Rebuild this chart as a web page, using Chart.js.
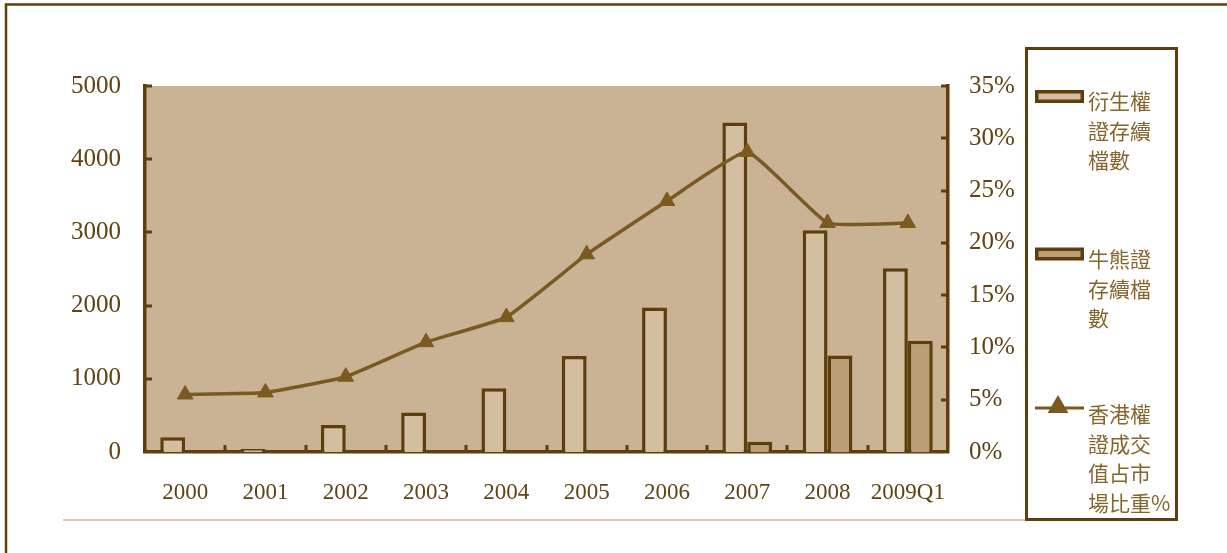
<!DOCTYPE html>
<html>
<head>
<meta charset="utf-8">
<script src="https://cdn.jsdelivr.net/npm/chart.js@4/dist/chart.umd.min.js"></script>
<style>
  html, body { margin: 0; padding: 0; background: #ffffff; }
  #wrap { position: relative; width: 1227px; height: 553px; }
</style>
</head>
<body>
<div id="wrap"><canvas id="c"></canvas></div>
<script>
// Categories and series
const categories = ['2000', '2001', '2002', '2003', '2004', '2005', '2006', '2007', '2008', '2009Q1'];
const warrantCounts = [200, 40, 370, 540, 870, 1310, 1975, 4500, 3030, 2510];
const cbbcCounts = [null, null, null, null, null, null, null, 140, 1320, 1520];
const warrantShare = [5.5, 5.7, 7.2, 10.5, 12.9, 18.9, 24.0, 28.7, 21.9, 21.9];

// Axis ticks
const leftTicks = [0, 1000, 2000, 3000, 4000, 5000];
const rightTicks = [0, 5, 10, 15, 20, 25, 30, 35];

const seriesLabels = ['衍生權證存續檔數', '牛熊證存續檔數', '香港權證成交值占市場比重%'];

const DARK = '#5e3f0c';
const LINE = '#7b5a1f';
const PLOT_BG = '#c9b394';
const BAR1 = '#d3bf9f';
const BAR2 = '#b99e76';
const TEXT = '#5f4312';
const LEGEND_TEXT = '#86652d';

// Background, frame, inward tick marks and the side legend
const decorPlugin = {
  id: 'decor',
  beforeDraw(chart) {
    const { ctx, chartArea: a } = chart;
    ctx.save();
    ctx.fillStyle = PLOT_BG;
    ctx.fillRect(a.left, a.top, a.right - a.left, a.bottom - a.top);
    ctx.restore();
  },
  afterDraw(chart) {
    const { ctx, chartArea: a, scales } = chart;
    ctx.save();
    ctx.strokeStyle = DARK;
    ctx.lineWidth = 3;
    ctx.lineCap = 'butt';
    // left axis ticks (inward)
    leftTicks.forEach(v => {
      if (v === 0) return;
      const y = Math.round(scales.y.getPixelForValue(v));
      ctx.beginPath(); ctx.moveTo(a.left - 1, y); ctx.lineTo(a.left + 7, y); ctx.stroke();
    });
    // right axis ticks (inward)
    rightTicks.forEach(v => {
      if (v === 0) return;
      const y = Math.round(scales.y1.getPixelForValue(v));
      ctx.beginPath(); ctx.moveTo(a.right + 1, y); ctx.lineTo(a.right - 7, y); ctx.stroke();
    });
    // category separators on the x axis (inward)
    const xs = scales.x;
    for (let i = 1; i < categories.length; i++) {
      const x = Math.round((xs.getPixelForValue(i - 1) + xs.getPixelForValue(i)) / 2);
      ctx.beginPath(); ctx.moveTo(x, a.bottom); ctx.lineTo(x, a.bottom - 7); ctx.stroke();
    }

    // outer frame (left and top)
    ctx.lineWidth = 2.5;
    ctx.beginPath();
    ctx.moveTo(6, 553); ctx.lineTo(6, 4.5); ctx.lineTo(1227, 4.5);
    ctx.stroke();

    // thin rule under the x labels
    ctx.strokeStyle = '#dacdb6';
    ctx.lineWidth = 2;
    ctx.beginPath(); ctx.moveTo(63, 520); ctx.lineTo(1026, 520); ctx.stroke();

    // legend box
    ctx.fillStyle = '#ffffff';
    ctx.fillRect(1026, 48, 151, 472);
    ctx.strokeStyle = DARK;
    ctx.lineWidth = 3;
    ctx.strokeRect(1026.5, 48.5, 150, 471);

    const ds = chart.data.datasets;
    // three characters per legend line, a trailing % stays with its line
    const chunk = s => s.match(/[^%]{1,3}%?/g);
    ctx.font = '21px "Noto Sans CJK TC", "Noto Sans CJK SC", sans-serif';
    ctx.textBaseline = 'middle';
    ctx.textAlign = 'left';
    const lineH = 29.7;

    const items = [
      { ds: ds[0], swatchY: 96.5, textY: 101, kind: 'bar' },
      { ds: ds[1], swatchY: 254, textY: 259, kind: 'bar' },
      { ds: ds[2], swatchY: 408, textY: 414, kind: 'line' }
    ];
    items.forEach(it => {
      if (it.kind === 'bar') {
        ctx.fillStyle = it.ds.borderColor;
        ctx.fillRect(1035, it.swatchY - 6.5, 49, 13);
        ctx.fillStyle = it.ds.backgroundColor;
        ctx.fillRect(1038.5, it.swatchY - 3, 42, 6);
      } else {
        ctx.strokeStyle = it.ds.borderColor;
        ctx.lineWidth = 3;
        ctx.beginPath(); ctx.moveTo(1035, it.swatchY); ctx.lineTo(1084, it.swatchY); ctx.stroke();
        Chart.helpers.drawPoint(ctx, { pointStyle: 'triangle', radius: 9, borderWidth: 1, rotation: 0 }, 1058, it.swatchY - 1);
        ctx.fillStyle = it.ds.pointBackgroundColor;
        ctx.fill();
      }
      ctx.fillStyle = LEGEND_TEXT;
      chunk(it.ds.label).forEach((ln, k) => {
        ctx.fillText(ln, 1088, it.textY + k * lineH);
      });
    });
    ctx.restore();
  }
};

const tickFont = { family: '"Liberation Serif", "DejaVu Serif", serif', size: 25 };

new Chart(document.getElementById('c'), {
  data: {
    labels: categories,
    datasets: [
      {
        type: 'bar',
        label: seriesLabels[0],
        data: warrantCounts,
        yAxisID: 'y',
        backgroundColor: BAR1,
        borderColor: DARK,
        borderWidth: 3.5,
        borderSkipped: 'start',
        categoryPercentage: 0.62,
        barPercentage: 1.0,
        order: 1
      },
      {
        type: 'bar',
        label: seriesLabels[1],
        data: cbbcCounts,
        yAxisID: 'y',
        backgroundColor: BAR2,
        borderColor: DARK,
        borderWidth: 3.5,
        borderSkipped: 'start',
        categoryPercentage: 0.62,
        barPercentage: 1.0,
        order: 2
      },
      {
        type: 'line',
        label: seriesLabels[2],
        data: warrantShare,
        yAxisID: 'y1',
        borderColor: LINE,
        borderWidth: 3.5,
        tension: 0.12,
        pointStyle: 'triangle',
        pointRadius: 9,
        pointBorderWidth: 1,
        pointBackgroundColor: LINE,
        pointBorderColor: LINE,
        order: 0
      }
    ]
  },
  options: {
    responsive: true,
    maintainAspectRatio: false,
    animation: false,
    layout: { padding: { left: 0, right: 0, top: 86, bottom: 0 } },
    plugins: { legend: { display: false }, tooltip: { enabled: false } },
    scales: {
      x: {
        grid: { display: false, drawTicks: false },
        border: { display: true, color: DARK, width: 3.5 },
        ticks: { color: TEXT, font: { family: tickFont.family, size: 23 }, padding: 27, maxRotation: 0 },
        afterFit(s) { s.height = 101; }
      },
      y: {
        position: 'left',
        min: 0, max: 5000,
        afterBuildTicks(s) { s.ticks = leftTicks.map(v => ({ value: v })); },
        grid: { display: false, drawTicks: false },
        border: { display: true, color: DARK, width: 3.5 },
        ticks: { color: TEXT, font: tickFont, padding: 24, callback: v => String(v) },
        afterFit(s) { s.width = 145; }
      },
      y1: {
        position: 'right',
        min: 0, max: 35,
        afterBuildTicks(s) { s.ticks = rightTicks.map(v => ({ value: v })); },
        grid: { display: false, drawTicks: false },
        border: { display: true, color: DARK, width: 3.5 },
        ticks: { color: TEXT, font: tickFont, padding: 21, callback: v => v + '%' },
        afterFit(s) { s.width = 279; }
      }
    }
  },
  plugins: [decorPlugin]
});
</script>
</body>
</html>
